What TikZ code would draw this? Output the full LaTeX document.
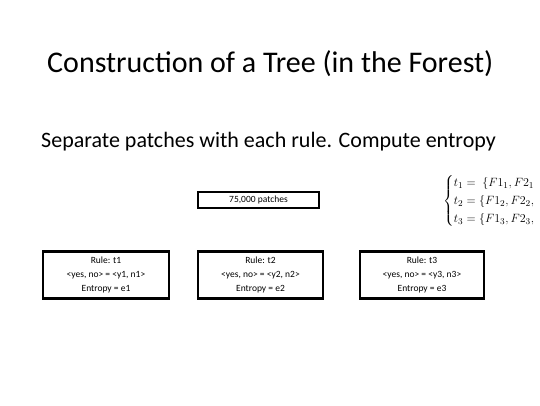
\documentclass[tikz,border=0pt]{standalone}
\usepackage{amsmath}
\usepackage{fontspec}
\setmainfont{Carlito}
\begin{document}
\begin{tikzpicture}[x=1pt,y=-1pt,
  box/.style={draw=black,line width=2.2pt,inner sep=0pt,font=\fontsize{9.5}{14}\selectfont,align=center},
  title/.style={anchor=base west,inner sep=0pt,font=\fontsize{30}{34}\selectfont},
  sub/.style={anchor=base west,inner sep=0pt,font=\fontsize{22}{26}\selectfont}]
\useasboundingbox (0,0) rectangle (540,405);
\clip (0,0) rectangle (540,405);
\node[title] (t) at (47,72) {Construction of a Tree (in the Forest)};
\node[sub] (s) at (41,147) {Separate patches with each rule. Compute entropy};
\node[box,minimum width=121pt,minimum height=16pt] (root) at (258.5,200) {75,000 patches};
\node[box,minimum width=126pt,minimum height=47pt] (b1) at (106,275) {Rule: t1\\ <yes, no> = <y1, n1>\\ Entropy = e1};
\node[box,minimum width=125pt,minimum height=47pt] (b2) at (260.5,275) {Rule: t2\\ <yes, no> = <y2, n2>\\ Entropy = e2};
\node[box,minimum width=124pt,minimum height=47pt] (b3) at (422,275) {Rule: t3\\ <yes, no> = <y3, n3>\\ Entropy = e3};
\node[anchor=west,inner sep=0pt,font=\fontsize{13}{15}\selectfont] (eq) at (443,201)
  {$\renewcommand\arraystretch{0.95}\begin{cases} t_1 = \;\{F1_1, F2_1\\ t_2 = \{F1_2, F2_2,\\ t_3 = \{F1_3, F2_3,\end{cases}$};
\end{tikzpicture}
\end{document}
